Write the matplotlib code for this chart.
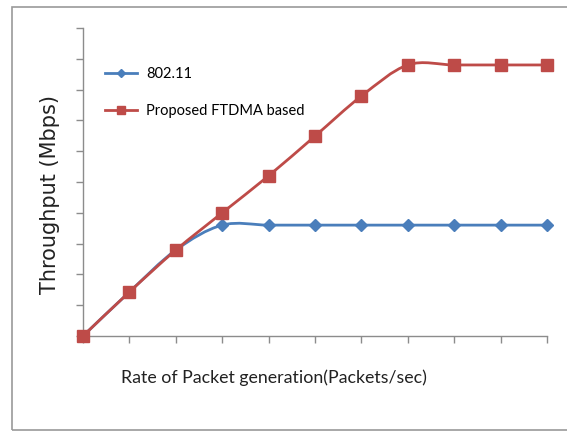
import numpy as np
import matplotlib.pyplot as plt
from matplotlib.path import Path
from matplotlib.patches import PathPatch, Rectangle
from matplotlib.lines import Line2D

# packet generation rate steps (unlabelled on the chart)
rate = list(range(11))
thr_80211 = [0, 1.43, 2.79, 3.6, 3.6, 3.6, 3.6, 3.6, 3.6, 3.6, 3.6]
thr_ftdma = [0, 1.43, 2.79, 4.0, 5.2, 6.49, 7.79, 8.8, 8.8, 8.8, 8.8]

blue = '#4A7EBB'
red = '#BE4B48'
body_font = 'Lato'


def smooth_path(x, y):
    # Catmull-Rom style bezier through the points, like a spreadsheet "smoothed line"
    pts = np.column_stack([x, y]).astype(float)
    n = len(pts)
    verts = [pts[0]]
    codes = [Path.MOVETO]
    for i in range(n - 1):
        p0 = pts[max(i - 1, 0)]
        p1 = pts[i]
        p2 = pts[i + 1]
        p3 = pts[min(i + 2, n - 1)]
        c1 = p1 + (p2 - p0) / 6
        c2 = p2 - (p3 - p1) / 6
        verts += [c1, c2, p2]
        codes += [Path.CURVE4] * 3
    return Path(verts, codes)


fig = plt.figure(figsize=(5.67, 4.32), dpi=100)
ax = fig.add_axes([83 / 567, 1 - 336 / 432, (547 - 83) / 567, (336 - 28) / 432])

for ys, col, mk, ms in [(thr_80211, blue, 'D', 6), (thr_ftdma, red, 's', 8)]:
    ax.add_patch(PathPatch(smooth_path(rate, ys), facecolor='none', edgecolor=col,
                           lw=2.0, capstyle='round', joinstyle='round', zorder=2))
    ax.plot(rate, ys, linestyle='none', marker=mk, markersize=ms, color=col,
            markeredgecolor=col, clip_on=False, zorder=3)

ax.set_xlim(0, 10)
ax.set_ylim(0, 10)
ax.set_xticks(rate)
ax.set_yticks(range(11))
ax.set_xticklabels([])
ax.set_yticklabels([])
for s in ['top', 'right']:
    ax.spines[s].set_visible(False)
for s in ['left', 'bottom']:
    ax.spines[s].set_color('#8C8C8C')
    ax.spines[s].set_linewidth(1.0)
ax.tick_params(direction='out', length=5, color='#8C8C8C', width=1.0)

handles = [
    Line2D([], [], color=blue, lw=2.0, marker='D', markersize=4.5),
    Line2D([], [], color=red, lw=2.0, marker='s', markersize=5.5),
]
fig.legend(handles, ['802.11', 'Proposed FTDMA based'], loc='upper left',
           bbox_to_anchor=(92 / 567, 1 - 54 / 432), frameon=False,
           handlelength=2.2, handletextpad=0.6, labelspacing=1.55,
           prop={'family': body_font, 'size': 10.5})

fig.text(50 / 567, 1 - 194 / 432, 'Throughput (Mbps)', rotation=90,
         ha='center', va='center', fontsize=15, family='DejaVu Sans', color='#222222')
fig.text(274 / 567, 1 - 378 / 432, 'Rate of Packet generation(Packets/sec)',
         ha='center', va='center', fontsize=12.8, family=body_font, color='#222222')

# frame around the whole chart area
fig.patches.append(Rectangle((12 / 567, 2 / 432), 1.2, (430 - 7) / 432,
                             transform=fig.transFigure, fill=False,
                             edgecolor='#9A9A9A', lw=1.2))

fig.savefig('out.png', dpi=100)
